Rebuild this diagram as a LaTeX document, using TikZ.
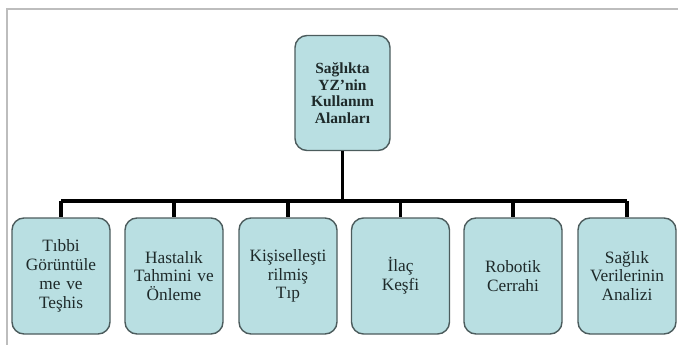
\documentclass[tikz,border=0pt]{standalone}
\usepackage{fontspec}
\setmainfont{Liberation Serif}
\definecolor{boxfill}{HTML}{B9DFE2}
\definecolor{boxline}{HTML}{4C5C5D}
\definecolor{boxtext}{HTML}{1E2A2A}
\definecolor{frame}{HTML}{BDBDBD}
\tikzset{
  item/.style={draw=boxline, line width=1.4pt, fill=boxfill, rounded corners=12pt,
    minimum width=98pt, minimum height=116pt, text width=98pt, align=center,
    inner sep=0pt, text=boxtext, font=\fontsize{17.3}{18.8}\selectfont},
  rootbox/.style={item, minimum width=95pt, minimum height=115pt, text width=95pt,
    font=\fontsize{15.5}{16.6}\selectfont\bfseries},
  conn/.style={draw=black, line width=3.2pt},
}
\begin{document}
\begin{tikzpicture}[x=1pt,y=-1pt]
\useasboundingbox (0,0) rectangle (678,345);
\draw[frame, line width=1.6pt] (7,345) -- (7,9) -- (678,9);
\node[rootbox] (root) at (342.5,93) {Sağlıkta\\YZ’nin\\Kullanım\\Alanları};
\node[item] (b1) at (61,276) {Tıbbi\\Görüntüle\\me ve\\Teşhis};
\node[item] (b2) at (174,276) {Hastalık\\Tahmini ve\\Önleme};
\node[item] (b3) at (288,276) {Kişiselleşti\\rilmiş\\Tıp};
\node[item] (b4) at (400.5,276) {İlaç\\Keşfi};
\node[item] (b5) at (513,276) {Robotik\\Cerrahi};
\node[item] (b6) at (627,276) {Sağlık\\Verilerinin\\Analizi};
\foreach \i in {1,...,6} { \coordinate (j\i) at (b\i.north |- 0,201); }
\coordinate (jr) at (root.south |- 0,201);
\draw[conn] (j1) -- (j6);
\draw[conn] (root.south) -- (jr);
\foreach \i in {1,...,6} { \draw[conn] (j\i) -- (b\i.north); }
\end{tikzpicture}
\end{document}
